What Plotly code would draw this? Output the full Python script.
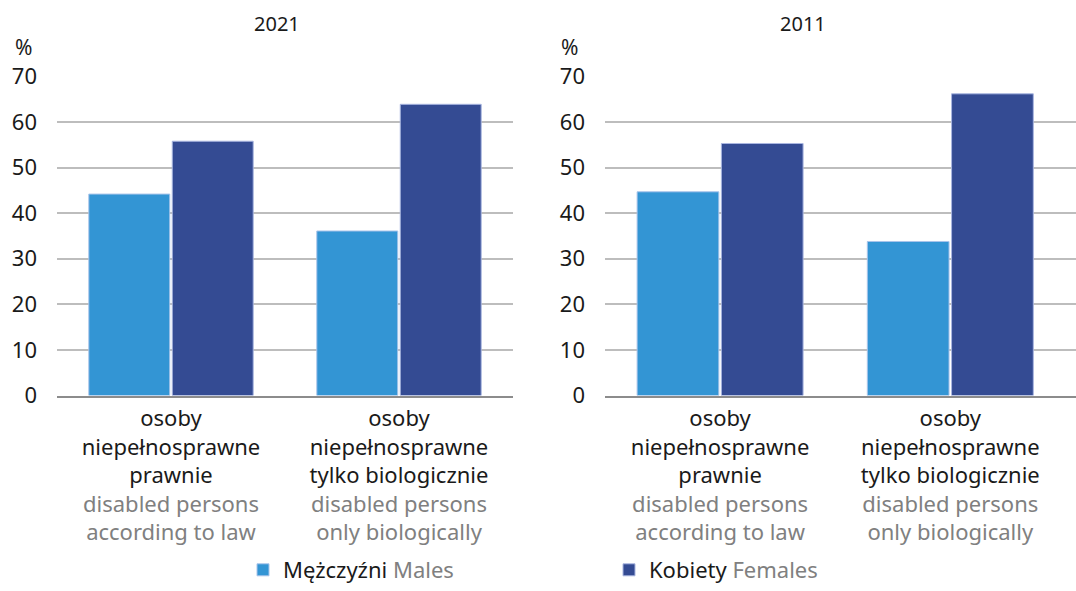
import plotly.graph_objects as go

categories_pl = ["osoby<br>niepełnosprawne<br>prawnie", "osoby<br>niepełnosprawne<br>tylko biologicznie"]
categories_en = ["disabled persons<br>according to law", "disabled persons<br>only biologically"]
males_2021 = [44.2, 36.1]
females_2021 = [55.8, 63.9]
males_2011 = [44.7, 33.8]
females_2011 = [55.3, 66.2]
panel_titles = ["2021", "2011"]
y_ticks = [0, 10, 20, 30, 40, 50, 60, 70]

W, H = 1076, 591
FONT = "Noto Sans"
C_M = "#3395d4"
C_F = "#344b93"
GRAY = "#808080"

ticktext = [f"{p}<br><span style='color:{GRAY}'>{e}</span>" for p, e in zip(categories_pl, categories_en)]
xpos = [0, 1]

fig = go.Figure()
for i, (m, f) in enumerate([(males_2021, females_2021), (males_2011, females_2011)]):
    xa = "x" if i == 0 else "x2"
    ya = "y" if i == 0 else "y2"
    fig.add_trace(go.Bar(x=xpos, y=m, xaxis=xa, yaxis=ya, marker=dict(color=C_M, line=dict(color="#a9c4ea", width=1)),
                         name=f"Mężczyźni <span style='color:{GRAY}'>Males</span>", showlegend=(i == 0), legendgroup="m"))
    fig.add_trace(go.Bar(x=xpos, y=f, xaxis=xa, yaxis=ya, marker=dict(color=C_F, line=dict(color="#a9b6e0", width=1)),
                         name=f"Kobiety <span style='color:{GRAY}'>Females</span>", showlegend=(i == 0), legendgroup="f"))

yb = 1 - 395.5 / H
yt = 1 - 76.5 / H
common_x = dict(tickvals=xpos, ticktext=ticktext, showgrid=False, showline=True, linecolor="#8c8c8c", linewidth=2,
                ticks="outside", ticklen=2, tickcolor="rgba(0,0,0,0)", tickfont=dict(size=22, color="#1a1a1a", family=FONT),
                automargin=False, zeroline=False)
common_y = dict(range=[0, 70], tickvals=y_ticks, showgrid=True, gridcolor="#bdbdbd", gridwidth=2, zeroline=False,
                showline=False, ticks="", ticklabelstandoff=19, tickfont=dict(size=22, color="#1a1a1a", family=FONT),
                automargin=False)

fig.update_layout(
    width=W, height=H,
    margin=dict(l=0, r=0, t=0, b=0),
    paper_bgcolor="white", plot_bgcolor="white",
    barmode="group", bargap=0.268, bargroupgap=0.03,
    font=dict(family=FONT, color="#1a1a1a"),
    xaxis=dict(domain=[57 / W, 513 / W], range=[-0.5, 1.5], **common_x),
    xaxis2=dict(domain=[605 / W, 1], range=[-0.5, 1.546], **common_x),
    yaxis=dict(domain=[yb, yt], anchor="x", **common_y),
    yaxis2=dict(domain=[yb, yt], anchor="x2", **common_y),
    legend=dict(orientation="h", x=243 / W, y=0, xanchor="left", yanchor="bottom",
                entrywidth=321, entrywidthmode="pixels", font=dict(size=22, color="#1a1a1a", family=FONT),
                bgcolor="rgba(0,0,0,0)", itemclick=False, itemdoubleclick=False),
    showlegend=True,
)

for xpx, t in zip([277, 803], panel_titles):
    fig.add_annotation(x=xpx / W, y=1 - 23 / H, xref="paper", yref="paper", text=t, showarrow=False,
                       font=dict(size=20, color="#1a1a1a", family=FONT), xanchor="center", yanchor="middle")
for xpx in [23, 569]:
    fig.add_annotation(x=xpx / W, y=1 - 47 / H, xref="paper", yref="paper", text="%", showarrow=False,
                       font=dict(size=21, color="#1a1a1a", family=FONT), xanchor="center", yanchor="middle")

fig.write_html("out.html", config={"displayModeBar": False},
               post_script="document.body.style.margin='0';document.body.style.overflow='hidden';")
